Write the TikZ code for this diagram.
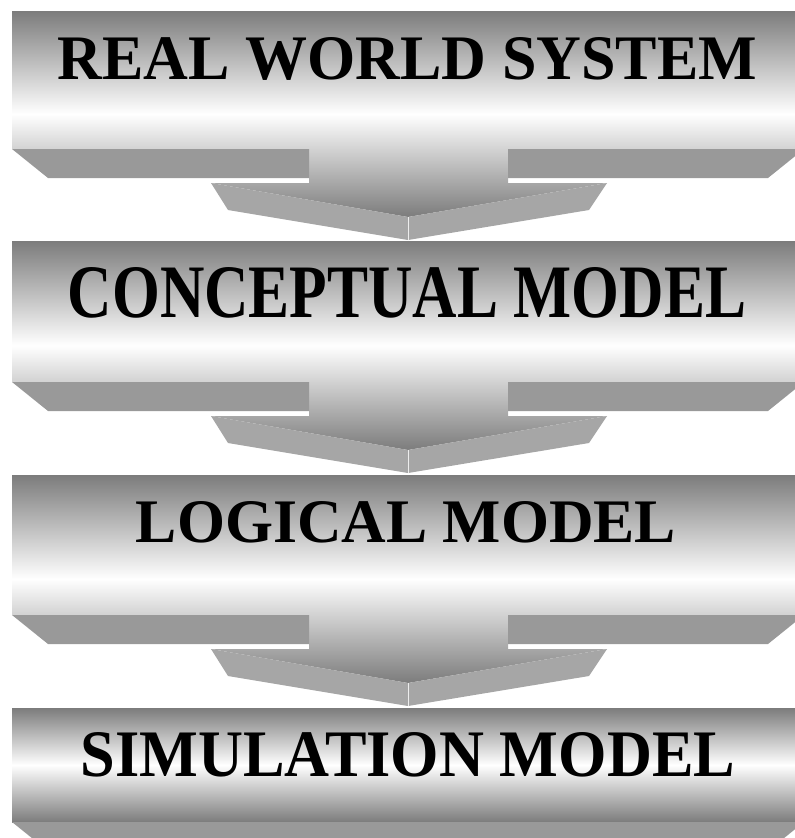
\documentclass[tikz,border=0pt]{standalone}
\usepackage{fontspec}
\setmainfont{Liberation Serif}
\usepackage{graphicx}

\definecolor{bargray}{RGB}{124,124,124}
\definecolor{bandgray}{RGB}{153,153,153}
\definecolor{headgray}{RGB}{166,166,166}

\tikzset{
  barshade/.style={top color=bargray, bottom color=bargray, middle color=white},
  band/.style={fill=bandgray},
  headface/.style={fill=headgray},
  stagelabel/.style={inner sep=0pt, font=\bfseries}
}

\begin{document}
\begin{tikzpicture}[x=1pt, y=-1pt]
      \useasboundingbox (0,0) rectangle (795,838);
      \clip (0,0) rectangle (795,838);

      % the three stages that point down to the next one
      \foreach \by/\bh in {11/138, 241/141, 475/140}{
        \pgfmathsetmacro\bbot{\by+\bh}
        \pgfmathsetmacro\bband{\bbot+29}
        \pgfmathsetmacro\bhead{\bbot+34}
        \pgfmathsetmacro\btip{\bbot+68}
        \pgfmathsetmacro\bout{\bbot+91}
        \pgfmathsetmacro\bside{\bbot+61}
        \shade[barshade] (12,\by) -- (804,\by) -- (804,\bbot) -- (508,\bbot)
          -- (508,\bhead) -- (607,\bhead) -- (408,\btip) -- (211,\bhead)
          -- (309,\bhead) -- (309,\bbot) -- (12,\bbot) -- cycle;
        \fill[band] (12,\bbot) -- (309,\bbot) -- (309,\bband) -- (48,\bband) -- cycle;
        \fill[band] (508,\bbot) -- (804,\bbot) -- (768,\bband) -- (508,\bband) -- cycle;
        \fill[headface] (211,\bhead) -- (408,\btip) -- (408,\bout) -- (228,\bside) -- cycle;
        \fill[headface] (607,\bhead) -- (408,\btip) -- (408,\bout) -- (589,\bside) -- cycle;
        \draw[white!80!headgray, line width=0.4pt] (408,\btip) -- (408,\bout);
      }

      % last stage, no arrow below it
      \shade[barshade] (12,708) rectangle (804,822);
      \fill[band] (12,822) -- (804,822) -- (768,851) -- (48,851) -- cycle;

      \node[stagelabel] (real) at (407.5,59) {\resizebox{699pt}{42pt}{REAL WORLD SYSTEM}};
      \node[stagelabel] (concept) at (407,293) {\resizebox{678pt}{50pt}{CONCEPTUAL MODEL}};
      \node[stagelabel] (logic) at (406,522.5) {\resizebox{540pt}{41pt}{LOGICAL MODEL}};
      \node[stagelabel] (simul) at (408,755) {\resizebox{654pt}{44pt}{SIMULATION MODEL}};
\end{tikzpicture}
\end{document}
